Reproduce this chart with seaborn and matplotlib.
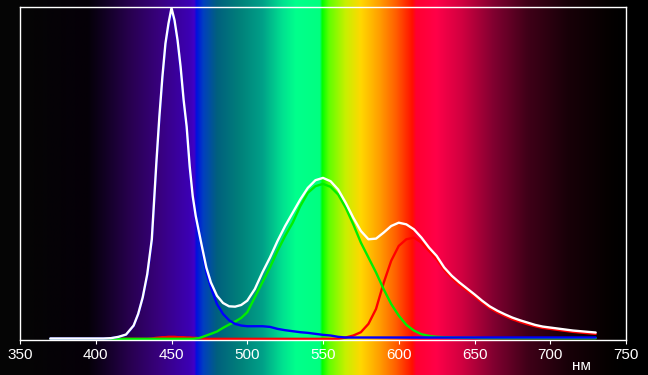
import numpy as np
import pandas as pd
import matplotlib
matplotlib.use("Agg")
import matplotlib.pyplot as plt
from matplotlib.colors import to_rgb
import seaborn as sns

# ---- data (wavelength in nm, relative intensity) ----
wavelength = [370, 380, 390, 400, 405, 410, 415, 420, 425, 428, 431, 434, 437, 440, 442, 444,
              446, 448, 450, 452, 454, 456, 458, 460, 462, 464, 466, 468, 470, 473, 476, 480,
              484, 488, 492, 496, 500, 505, 510, 515, 520, 525, 530, 535, 540, 545, 550, 555,
              560, 565, 570, 575, 580, 585, 590, 595, 600, 605, 610, 615, 620, 625, 630, 635,
              640, 645, 650, 655, 660, 665, 670, 675, 680, 685, 690, 695, 700, 705, 710, 715,
              720, 725, 730]

total = [0.001, 0.001, 0.001, 0.001, 0.001, 0.002, 0.006, 0.013, 0.040, 0.075, 0.125, 0.195, 0.300, 0.530, 0.670, 0.790,
         0.890, 0.950, 0.997, 0.960, 0.900, 0.820, 0.720, 0.640, 0.520, 0.430, 0.370, 0.325, 0.280, 0.215, 0.170, 0.130,
         0.108, 0.098, 0.097, 0.102, 0.115, 0.150, 0.200, 0.245, 0.295, 0.340, 0.380, 0.420, 0.455, 0.478, 0.485, 0.475,
         0.450, 0.410, 0.365, 0.325, 0.300, 0.302, 0.320, 0.340, 0.350, 0.345, 0.330, 0.305, 0.275, 0.250, 0.215, 0.190,
         0.170, 0.152, 0.134, 0.115, 0.098, 0.085, 0.074, 0.064, 0.056, 0.049, 0.042, 0.037, 0.034, 0.031, 0.028, 0.025,
         0.023, 0.021, 0.019]

blue = [0.001, 0.001, 0.001, 0.001, 0.001, 0.002, 0.006, 0.012, 0.039, 0.074, 0.124, 0.189, 0.295, 0.525, 0.664, 0.784,
        0.885, 0.944, 0.991, 0.955, 0.895, 0.815, 0.715, 0.635, 0.516, 0.426, 0.366, 0.320, 0.272, 0.200, 0.155, 0.105,
        0.075, 0.056, 0.045, 0.040, 0.038, 0.038, 0.038, 0.036, 0.030, 0.026, 0.023, 0.020, 0.018, 0.015, 0.012, 0.010,
        0.006, 0.004, 0.004, 0.004, 0.004, 0.004, 0.004, 0.004, 0.004, 0.004, 0.004, 0.004, 0.004, 0.004, 0.004, 0.004,
        0.004, 0.004, 0.004, 0.004, 0.004, 0.004, 0.004, 0.004, 0.004, 0.004, 0.004, 0.004, 0.004, 0.004, 0.004, 0.004,
        0.004, 0.004, 0.004]

green = [0.0, 0.0, 0.0, 0.0, 0.0, 0.0, 0.0, 0.0, 0.0, 0.0, 0.0, 0.0, 0.0, 0.0, 0.0, 0.0,
         0.0, 0.0, 0.0, 0.0, 0.0, 0.0, 0.0, 0.0, 0.0, 0.0, 0.001, 0.002, 0.005, 0.010, 0.015, 0.022,
         0.033, 0.043, 0.052, 0.063, 0.080, 0.125, 0.170, 0.215, 0.265, 0.310, 0.350, 0.400, 0.440, 0.460, 0.467, 0.458,
         0.435, 0.395, 0.345, 0.290, 0.245, 0.200, 0.150, 0.105, 0.070, 0.042, 0.025, 0.014, 0.009, 0.006, 0.005, 0.004,
         0.003, 0.003, 0.003, 0.002, 0.002, 0.002, 0.002, 0.002, 0.002, 0.002, 0.002, 0.002, 0.002, 0.002, 0.002, 0.002,
         0.002, 0.002, 0.002]

red = [0.0, 0.0, 0.0, 0.0, 0.0, 0.0, 0.0, 0.0, 0.0, 0.0, 0.0, 0.0, 0.001, 0.003, 0.004, 0.005,
       0.005, 0.006, 0.006, 0.006, 0.005, 0.005, 0.005, 0.004, 0.004, 0.003, 0.003, 0.002, 0.001, 0.0, 0.0, 0.0,
       0.0, 0.0, 0.0, 0.0, 0.0, 0.0, 0.0, 0.0, 0.0, 0.0, 0.0, 0.0, 0.0, 0.0, 0.0, 0.0,
       0.0, 0.004, 0.010, 0.020, 0.045, 0.090, 0.168, 0.235, 0.280, 0.300, 0.305, 0.290, 0.265, 0.240, 0.208, 0.183,
       0.163, 0.146, 0.128, 0.110, 0.093, 0.080, 0.069, 0.059, 0.051, 0.044, 0.038, 0.033, 0.030, 0.027, 0.024, 0.021,
       0.019, 0.017, 0.015]

tick_values = [350, 400, 450, 500, 550, 600, 650, 700, 750]
unit_label = "нм"

# ---- spectrum backdrop (styling only) ----
grad_nm = [350, 395, 405, 423, 442, 462, 465, 466.5, 471, 480, 495, 510, 523, 532, 548, 549.5,
           554, 565, 575, 587, 598, 609, 611.5, 625, 642, 663, 685, 712, 740, 750]
grad_col = ["#050505", "#050008", "#100020", "#280050", "#38007e", "#3c00b4", "#4000c8", "#0010e0",
            "#0040c0", "#00607e", "#00807a", "#00a088", "#00e090", "#00ff8c", "#00ff80", "#00ff00",
            "#60ff00", "#c8f000", "#ffd800", "#ffa000", "#ff6000", "#ff1000", "#ff0030", "#ff0048",
            "#d00040", "#800030", "#400018", "#180008", "#040000", "#000000"]

sns.set_style("dark", rc={"axes.facecolor": "none", "figure.facecolor": "#050505"})
plt.rcParams["font.family"] = ["Liberation Sans", "DejaVu Sans"]

fig = plt.figure(figsize=(6.48, 3.75), dpi=100, facecolor="#050505")
left, right = 20 / 648, 626 / 648
bottom, top = (375 - 339.5) / 375, (375 - 7) / 375

# right margin is pure black in the reference
fig.patches.append(plt.Rectangle((right, 0), 1 - right, 1, transform=fig.transFigure,
                                 facecolor="#000000", edgecolor="none", zorder=-1))

bg = fig.add_axes([left, 0, right - left, 1], zorder=0)
xs = np.linspace(350, 750, 1601)
rgb = np.array([to_rgb(c) for c in grad_col])
img = np.stack([np.interp(xs, grad_nm, rgb[:, k]) for k in range(3)], axis=-1)[None, :, :]
bg.imshow(img, extent=[350, 750, 0, 1], aspect="auto", interpolation="bilinear")
bg.set_xlim(350, 750)
bg.set_ylim(0, 1)
bg.axis("off")

ax = fig.add_axes([left, bottom, right - left, top - bottom], zorder=1)
ax.set_facecolor("none")

df = pd.DataFrame({"nm": wavelength, "total": total, "blue": blue, "green": green, "red": red})
for col, color in [("red", "#ff0000"), ("green", "#00ee00"), ("blue", "#0000ff"), ("total", "#ffffff")]:
    sns.lineplot(data=df, x="nm", y=col, color=color, linewidth=1.7, ax=ax, sort=False)

ax.set_xlim(350, 750)
ax.set_ylim(-0.002, 1.0)
ax.set_xticks(tick_values)
ax.set_xticklabels([str(t) for t in tick_values])
ax.set_yticks([])
ax.set_xlabel("")
ax.set_ylabel("")
ax.grid(False)
for s in ax.spines.values():
    s.set_visible(True)
    s.set_color("white")
    s.set_linewidth(1.0)
ax.tick_params(axis="x", colors="white", direction="out", length=3, width=0.8,
               labelsize=11, pad=3, bottom=True)

fig.text(591 / 648, 2 / 375, unit_label, color="white", fontsize=11, ha="right", va="bottom")

fig.savefig("out.png", dpi=100, facecolor=fig.get_facecolor())
